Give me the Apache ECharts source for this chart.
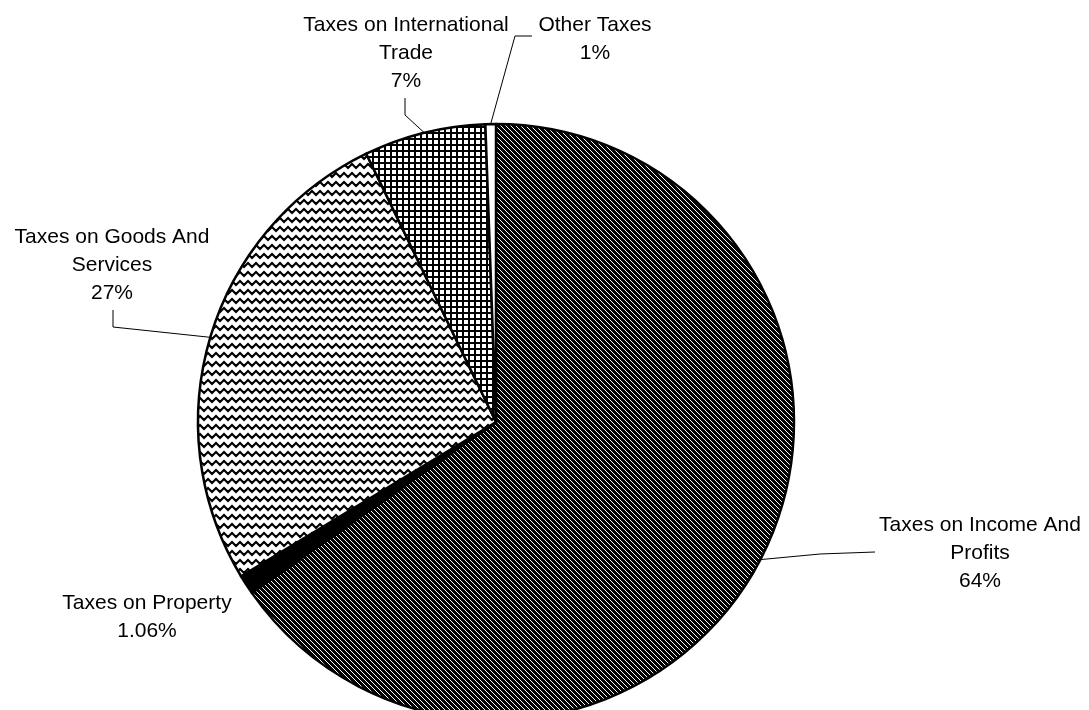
<!DOCTYPE html>
<html><head><meta charset="utf-8">
<script src="https://cdn.jsdelivr.net/npm/echarts@6/dist/echarts.min.js"></script>
<style>html,body{margin:0;padding:0;background:#fff}#c{width:1089px;height:710px}</style>
</head><body><div id="c"></div>
<script>
// ---- data ----
const categories = ['Taxes on Income And Profits', 'Taxes on Property', 'Taxes on Goods And Services', 'Taxes on International Trade', 'Other Taxes'];
const shares = [65.3, 1.06, 26.5, 6.6, 0.57];
const labelTexts = [
  'Taxes on Income And\nProfits\n64%',
  'Taxes on Property\n1.06%',
  'Taxes on Goods And\nServices\n27%',
  'Taxes on International\nTrade\n7%',
  'Other Taxes\n1%'
];

// ---- patterns ----
function makeTile(w, h, draw) {
  const c = document.createElement('canvas');
  c.width = w; c.height = h;
  const g = c.getContext('2d');
  g.fillStyle = '#fff'; g.fillRect(0, 0, w, h);
  draw(g, w, h);
  return c;
}
const diagTile = makeTile(5, 5, (g, n) => {
  g.fillStyle = '#000';
  for (let y = 0; y < n; y++) for (let x = 0; x < n; x++) {
    if ((((x - y) % n) + n) % n !== 0) g.fillRect(x, y, 1, 1);
  }
});
const gridTile = makeTile(6, 6, (g, w, h) => {
  g.fillStyle = '#000';
  g.fillRect(0, 0, w, 2);
  g.fillRect(0, 0, 2, h);
});
const waveTile = makeTile(8, 9, (g, w, h) => {
  g.strokeStyle = '#000'; g.lineWidth = 2.2; g.lineJoin = 'miter';
  for (const oy of [-h, 0, h]) {
    g.beginPath();
    g.moveTo(-8, 2 + oy);
    for (let x = -8; x <= 16; x += 4) {
      g.lineTo(x, (((x / 4) % 2 + 2) % 2 === 0 ? 2 : 6) + oy);
    }
    g.stroke();
  }
});

const fills = [
  { image: diagTile, repeat: 'repeat' },
  '#000',
  { image: waveTile, repeat: 'repeat' },
  { image: gridTile, repeat: 'repeat' },
  '#fff'
];

// label placement (layout only)
const labelPlace = [
  { x: 980, y: 553, p1: [820, 554], p2: [875, 552] },
  { x: 147, y: 617 },
  { x: 112, y: 265, p1: [113, 327], p2: [113, 310] },
  { x: 406, y: 53, p1: [405, 115], p2: [405, 98] },
  { x: 595, y: 39, p1: [515, 36], p2: [532, 36] }
];

const chart = echarts.init(document.getElementById('c'), null, { renderer: 'canvas' });
chart.setOption({
  animation: false,
  backgroundColor: '#fff',
  series: [{
    type: 'pie',
    center: [496, 422],
    radius: 298,
    startAngle: 90,
    clockwise: true,
    avoidLabelOverlap: false,
    itemStyle: { borderColor: '#000', borderWidth: 2.5 },
    label: {
      show: true,
      position: 'outside',
      color: '#000',
      fontFamily: 'Liberation Sans, Arial, sans-serif',
      fontSize: 21,
      lineHeight: 28,
      align: 'center',
      formatter: p => labelTexts[p.dataIndex]
    },
    labelLine: { show: true, length: 20, length2: 20, lineStyle: { color: '#000', width: 1 } },
    emphasis: { disabled: true },
    labelLayout: function (p) {
      const L = labelPlace[p.dataIndex];
      const res = { x: L.x, y: L.y, align: 'center', verticalAlign: 'middle' };
      if (L.p1 && p.labelLinePoints) {
        res.labelLinePoints = [p.labelLinePoints[0], L.p1, L.p2];
      }
      return res;
    },
    data: categories.map((name, i) => ({
      name: name,
      value: shares[i],
      itemStyle: { color: fills[i] },
      labelLine: { show: i !== 1 }
    }))
  }]
});
</script>
</body></html>
